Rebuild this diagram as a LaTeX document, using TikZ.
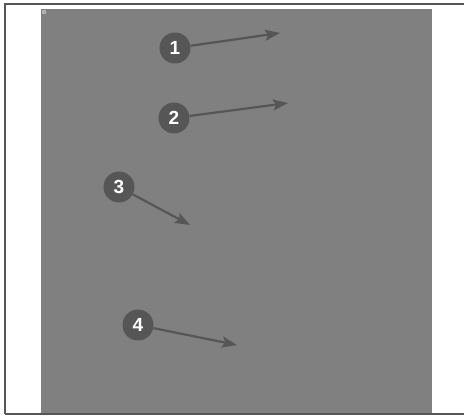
\documentclass[tikz,border=0pt]{standalone}
\usepackage{fontspec}
\setmainfont{Liberation Sans}
\usetikzlibrary{arrows.meta}
\definecolor{panel}{HTML}{808080}
\definecolor{marker}{HTML}{565656}
\tikzset{
    badge/.style={circle, fill=marker, text=white, inner sep=0pt, minimum size=31pt, font=\bfseries\fontsize{19}{19}\selectfont},
    pointer/.style={draw=marker, line width=2.2pt, -{Stealth[length=15pt, width=11pt, inset=3pt]}}
}
\begin{document}
\begin{tikzpicture}[x=1pt, y=-1pt]
    \useasboundingbox (0, 0) rectangle (464, 417);
    \fill[white] (0, 0) rectangle (464, 417);
    \draw[marker, line width=2.5pt] (5, 414)--(5, 4)--(464, 4);
    \draw[marker, line width=2.5pt] (5, 414)--(464, 414);
    \fill[panel] (41, 9) rectangle (432, 413);
    \fill[gray!60] (42, 10) rectangle (46, 14);
    \node[badge] (b1) at (175, 48) {1};
    \node[badge] (b2) at (174, 118) {2};
    \node[badge] (b3) at (119, 187) {3};
    \node[badge] (b4) at (138, 325) {4};
    \coordinate (t1) at (280, 33);
    \coordinate (t2) at (288, 103);
    \coordinate (t3) at (190, 225);
    \coordinate (t4) at (237, 345);
    \draw[pointer] (b1)--(t1);
    \draw[pointer] (b2)--(t2);
    \draw[pointer] (b3)--(t3);
    \draw[pointer] (b4)--(t4);
\end{tikzpicture}
\end{document}
